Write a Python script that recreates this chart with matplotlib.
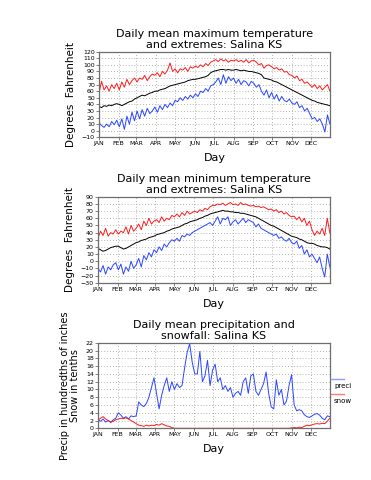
import matplotlib
matplotlib.use('Agg')
import matplotlib.pyplot as plt
from matplotlib.lines import Line2D
import numpy as np

# days sampled every 4 days through the year
days = np.arange(1, 366, 4)

month_days = [1, 32, 60, 91, 121, 152, 182, 213, 244, 274, 305, 335]
month_labels = ['JAN', 'FEB', 'MAR', 'APR', 'MAY', 'JUN',
                'JUL', 'AUG', 'SEP', 'OCT', 'NOV', 'DEC']

# daily maximum temperature: record high, mean, record low
tmax_hi = [57, 75, 62, 68, 60, 70, 64, 72,
           62, 74, 66, 78, 70, 76, 80,
           74, 80, 78, 84, 76, 82, 86, 84,
           88, 82, 90, 86, 92, 103, 90, 94,
           88, 94, 92, 96, 90, 97, 95,
           98, 96, 100, 97, 102, 99, 104, 106,
           108, 105, 109, 106, 108, 104, 107, 106,
           108, 105, 107, 104, 108, 103, 106,
           107, 104, 100, 102, 95, 99, 100, 97,
           94, 96, 92, 94, 89, 90, 85, 84,
           80, 83, 76, 78, 72, 74, 70,
           66, 70, 64, 68, 62, 66, 70, 60]
tmax_mean = [37, 35, 38, 37, 39, 38, 40, 41,
             40, 38, 40, 42, 44, 45, 48,
             50, 52, 54, 53, 55, 57, 58, 60,
             60, 62, 63, 64, 66, 68, 69, 70,
             71, 72, 73, 74, 76, 77, 78,
             78, 79, 80, 81, 82, 84, 88, 90,
             91, 92, 93, 93, 92, 93, 92, 92,
             93, 92, 91, 92, 91, 90, 90,
             89, 88, 87, 85, 80, 79, 78, 77,
             75, 74, 72, 70, 68, 66, 64, 62,
             60, 58, 56, 54, 52, 50, 48,
             46, 45, 43, 42, 41, 40, 39, 38]
tmax_lo = [12, 8, 5, 10, 6, 14, 9, 16,
           6, 18, 2, 22, 10, 28, 15,
           30, 18, 32, 22, 34, 26, 30, 36,
           28, 38, 32, 40, 35, 42, 38, 46,
           44, 50, 46, 52, 48, 54, 50,
           56, 52, 60, 58, 64, 60, 68, 70,
           74, 80, 70, 85, 72, 82, 76, 80,
           72, 78, 70, 76, 74, 68, 75,
           72, 66, 70, 60, 54, 62, 50, 58,
           48, 55, 45, 52, 46, 44, 48, 42,
           40, 44, 35, 38, 30, 34, 26,
           18, 20, 14, 18, 10, -2, 24, 10]

# daily minimum temperature: record high, mean, record low
tmin_hi = [32, 42, 36, 46, 35, 40, 38, 44,
           38, 42, 40, 48, 38, 50, 42,
           46, 52, 44, 56, 50, 60, 52, 56,
           58, 54, 62, 56, 60, 58, 64, 62,
           66, 62, 68, 64, 70, 66, 68,
           70, 68, 72, 70, 74, 72, 76, 78,
           78, 80, 79, 81, 78, 80, 82, 79,
           80, 78, 82, 79, 80, 78, 77,
           78, 76, 77, 75, 76, 74, 72, 73,
           70, 72, 68, 70, 66, 68, 64, 62,
           63, 58, 62, 55, 60, 50, 56,
           44, 36, 42, 38, 46, 36, 60, 40]
tmin_mean = [18, 16, 14, 15, 17, 19, 20, 21,
             21, 19, 17, 18, 20, 22, 24,
             26, 27, 29, 30, 31, 33, 34, 35,
             37, 38, 39, 40, 42, 43, 45, 46,
             47, 48, 50, 52, 53, 55, 56,
             57, 58, 60, 61, 63, 64, 66, 67,
             68, 69, 70, 71, 70, 70, 69, 69,
             68, 68, 67, 67, 66, 65, 64,
             63, 62, 60, 58, 56, 54, 52, 50,
             49, 47, 45, 43, 41, 39, 37, 35,
             34, 33, 31, 30, 28, 26, 25,
             25, 24, 22, 21, 20, 20, 19, 17]
tmin_lo = [-10, -15, -6, -18, -8, -12, -5, -2,
           -12, -4, -18, -8, -14, 0, -10,
           -5, 4, -8, 8, 2, 12, 6, 16,
           12, 20, 15, 24, 20, 26, 30, 28,
           32, 28, 36, 34, 38, 36, 40,
           42, 44, 46, 48, 50, 52, 54, 50,
           56, 62, 52, 60, 58, 62, 50, 55,
           58, 52, 56, 60, 54, 58, 56,
           54, 48, 52, 46, 44, 42, 40, 38,
           36, 38, 32, 34, 30, 28, 32, 26,
           24, 28, 18, 22, 10, 16, 6,
           10, 4, -2, 6, -10, -22, 10, -8]

# precipitation (hundredths of inch) and snowfall (tenths)
precip = [2.2, 1.8, 2.4, 1.6, 2.0, 1.5, 2.2, 2.6,
          4.0, 3.4, 2.6, 3.0, 2.4, 3.2, 3.0,
          3.2, 6.8, 6.0, 5.6, 6.4, 8.0, 10.5, 13.0,
          9.0, 5.0, 8.5, 11.0, 13.0, 9.5, 12.0, 10.0,
          11.5, 10.5, 11.0, 15.5, 19.5, 21.8, 17.0,
          14.0, 14.0, 19.8, 12.0, 13.5, 17.5, 11.0, 15.0,
          16.5, 12.0, 13.0, 10.0, 11.0, 9.5, 10.5, 8.0,
          9.0, 9.5, 8.5, 12.0, 13.0, 9.0, 13.5,
          14.0, 9.5, 8.5, 10.0, 11.5, 14.5, 9.0, 5.5,
          5.0, 12.5, 8.5, 10.0, 6.0, 7.0, 11.0, 13.8,
          6.0, 4.5, 4.8, 4.5, 3.5, 3.0, 2.8,
          3.2, 3.6, 3.8, 3.4, 2.6, 2.2, 3.2, 3.0]
snow = [2.0, 2.6, 3.0, 2.4, 2.0, 1.6, 1.8, 2.2,
        2.4, 2.6, 2.5, 2.7, 2.4, 2.0, 1.6,
        1.2, 0.8, 0.7, 0.5, 0.8, 0.6, 0.8, 0.7,
        1.0, 0.8, 1.2, 0.9, 0.6, 0.5, 0.2, 0.0,
        0.0, 0.0, 0.0, 0.0, 0.0, 0.0, 0.0,
        0.0, 0.0, 0.0, 0.0, 0.0, 0.0, 0.0, 0.0,
        0.0, 0.0, 0.0, 0.0, 0.0, 0.0, 0.0, 0.0,
        0.0, 0.0, 0.0, 0.0, 0.0, 0.0, 0.0,
        0.0, 0.0, 0.0, 0.0, 0.0, 0.0, 0.0, 0.0,
        0.0, 0.0, 0.0, 0.0, 0.0, 0.0, 0.0, 0.1,
        0.2, 0.1, 0.3, 0.2, 0.5, 0.8, 0.7,
        0.9, 1.1, 1.2, 1.1, 1.3, 1.2, 1.8, 2.6]

RED = '#ff1a1a'
BLUE = '#2a46ff'
GRID = '#9a9a9a'
FRAME = '#6e6e6e'


def style_axes(ax, yticks):
    ax.set_xlim(1, 365)
    ax.set_ylim(yticks[0], yticks[-1])
    ax.set_xticks(month_days)
    ax.set_xticklabels(month_labels)
    ax.set_yticks(yticks)
    ax.tick_params(labelsize=4.5, length=2, width=0.6, pad=1, color=FRAME)
    ax.grid(True, color=GRID, linestyle=(0, (1, 2.5)), linewidth=0.6)
    for s in ax.spines.values():
        s.set_color(FRAME)
        s.set_linewidth(0.9)
    ax.set_xlabel('Day', fontsize=8, labelpad=5)


fig = plt.figure(figsize=(3.71, 4.8), dpi=100)

# panel 1: maximum temperature
ax1 = fig.add_axes([0.2668, 0.714, 0.6226, 0.1783])
ax1.plot(days, tmax_hi, color=RED, lw=0.7)
ax1.plot(days, tmax_mean, color='black', lw=0.7)
ax1.plot(days, tmax_lo, color=BLUE, lw=0.7)
style_axes(ax1, list(range(-10, 121, 10)))
ax1.set_title('Daily mean maximum temperature\nand extremes: Salina KS',
              fontsize=8, pad=3, linespacing=1.05)
ax1.set_ylabel('Degrees  Fahrenheit', fontsize=7.5, labelpad=4)

# panel 2: minimum temperature
ax2 = fig.add_axes([0.264, 0.411, 0.625, 0.179])
ax2.plot(days, tmin_hi, color=RED, lw=0.7)
ax2.plot(days, tmin_mean, color='black', lw=0.7)
ax2.plot(days, tmin_lo, color=BLUE, lw=0.7)
style_axes(ax2, list(range(-30, 91, 10)))
ax2.set_title('Daily mean minimum temperature\nand extremes: Salina KS',
              fontsize=8, pad=3, linespacing=1.05)
ax2.set_ylabel('Degrees  Fahrenheit', fontsize=7.5, labelpad=4)

# panel 3: precipitation and snowfall
ax3 = fig.add_axes([0.264, 0.1077, 0.625, 0.178])
ax3.plot(days, precip, color=BLUE, lw=0.7)
ax3.plot(days, snow, color=RED, lw=0.7)
style_axes(ax3, list(range(0, 23, 2)))
ax3.set_title('Daily mean precipitation and\nsnowfall: Salina KS',
              fontsize=8, pad=3, linespacing=1.05)
ax3.set_ylabel('Precip in hundredths of inches\nSnow in tenths',
               fontsize=7, labelpad=4, linespacing=1.0)

# legend drawn outside the plot on the right
fig.add_artist(Line2D([0.893, 0.928], [1 - 379 / 480, 1 - 379 / 480],
                      color='#8c9cff', lw=1.0))
fig.text(0.900, 1 - 386 / 480, 'preci', fontsize=5, va='center')
fig.add_artist(Line2D([0.893, 0.928], [1 - 394 / 480, 1 - 394 / 480],
                      color='#ff7a7a', lw=1.0))
fig.text(0.900, 1 - 401 / 480, 'snow', fontsize=5, va='center')

fig.savefig('out.png', dpi=100)
